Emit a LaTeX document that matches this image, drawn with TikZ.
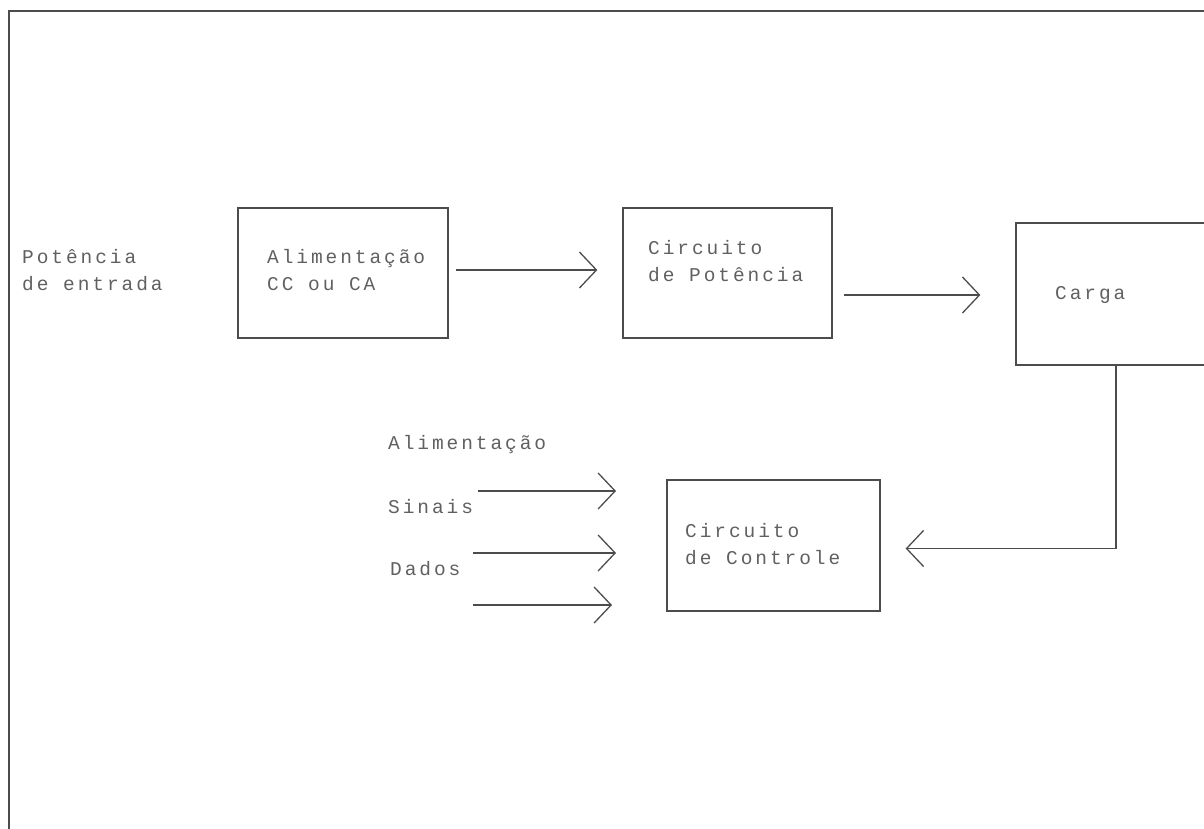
\documentclass[tikz,border=0pt]{standalone}
\usepackage{fontspec}
\setmonofont[LetterSpace=15]{Liberation Mono}
\usetikzlibrary{calc,arrows.meta}

\tikzset{
  bloco/.style={draw=gray!60!black, line width=1.3pt, inner sep=0pt},
  rotulo/.style={anchor=west, align=left, inner sep=0pt, text=gray!75!black,
    font=\ttfamily\fontsize{19.5}{27}\selectfont},
  seta/.style={draw=gray!60!black, line width=1.3pt,
    -{Straight Barb[length=17pt,width=36pt,line width=1.3pt]}},
}

\begin{document}
\begin{tikzpicture}[x=1pt,y=-1pt]
\useasboundingbox (0,0) rectangle (1204,829);
\clip (0,0) rectangle (1204,829);
%% moldura
\draw[gray!60!black, line width=1.5pt] (9,829) -- (9,11) -- (1210,11);
%% blocos
\node[bloco, minimum width=210pt, minimum height=130pt] (ali) at (343,273) {};
\node[bloco, minimum width=209pt, minimum height=130pt] (pot) at (727.5,273) {};
\node[bloco, minimum width=234pt, minimum height=142pt] (carga) at (1133,294) {};
\node[bloco, minimum width=213pt, minimum height=131pt] (ctrl) at (773.5,545.5) {};
%% textos
\node[rotulo] (tent) at (22,270) {Potência\\de entrada};
\node[rotulo] (tali) at (267,270) {Alimentação\\CC ou CA};
\node[rotulo] (tpot) at (648,261) {Circuito\\de Potência};
\node[rotulo] (tcarga) at (1055,295) {Carga};
\node[rotulo] (tctrl) at (685,544) {Circuito\\de Controle};
\node[rotulo] (talim) at (388,445) {Alimentação};
\node[rotulo] (tsin) at (388,507) {Sinais};
\node[rotulo] (tdad) at (390,569) {Dados};
%% setas
\draw[seta] ($(ali.east)+(7,-3)$) -- ($(pot.west)+(-25,-3)$);
\draw[seta] ($(pot.east)+(11,22)$) -- ($(carga.west)+(-35,1)$);
\coordinate (fb) at (1116,548);
\draw[seta] (carga.south -| fb) |- ($(ctrl.east)+(25,3)$);
%% entradas do controle
\coordinate (e1) at (478,491);
\coordinate (f1) at (616,491);
\coordinate (e2) at (473,553);
\coordinate (f2) at (616,553);
\coordinate (e3) at (473,605);
\coordinate (f3) at (612,605);
\draw[seta] (e1) -- (f1);
\draw[seta] (e2) -- (f2);
\draw[seta] (e3) -- (f3);
\end{tikzpicture}
\end{document}
